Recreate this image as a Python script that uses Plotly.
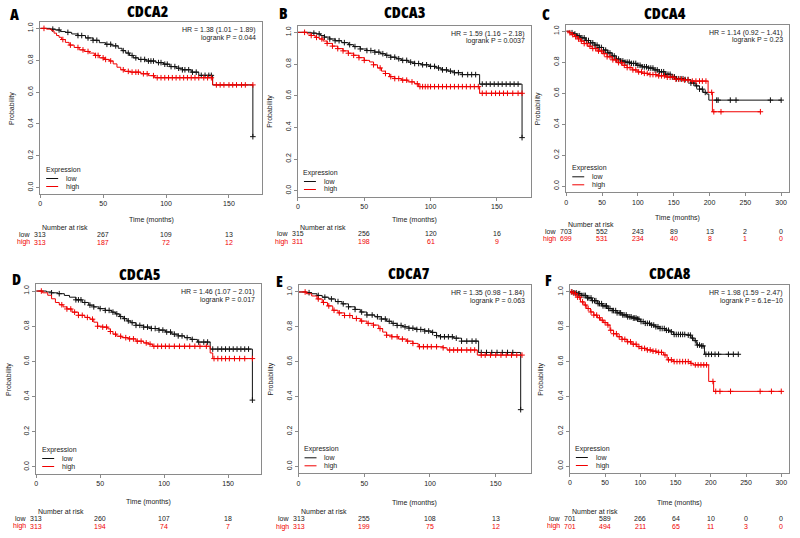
import plotly.graph_objects as go

# ---------------- DATA ----------------
genes = ["CDCA2", "CDCA3", "CDCA4", "CDCA5", "CDCA7", "CDCA8"]
letters = ["A", "B", "C", "D", "E", "F"]
hr_lines = ["HR = 1.38 (1.01 − 1.89)", "HR = 1.59 (1.16 − 2.18)", "HR = 1.14 (0.92 − 1.41)",
            "HR = 1.46 (1.07 − 2.01)", "HR = 1.35 (0.98 − 1.84)", "HR = 1.98 (1.59 − 2.47)"]
p_lines = ["logrank P = 0.044", "logrank P = 0.0037", "logrank P = 0.23",
           "logrank P = 0.017", "logrank P = 0.063", "logrank P = 6.1e−10"]

ticks_short = [0, 50, 100, 150]
ticks_long = [0, 50, 100, 150, 200, 250, 300]
y_ticks = [0.0, 0.2, 0.4, 0.6, 0.8, 1.0]
y_ticklabels = ["0.0", "0.2", "0.4", "0.6", "0.8", "1.0"]

nar_low = [[313, 267, 109, 13], [315, 256, 120, 16], [703, 552, 243, 89, 13, 2, 0],
           [313, 260, 107, 18], [313, 255, 108, 13], [701, 589, 266, 64, 10, 0, 0]]
nar_high = [[313, 187, 72, 12], [311, 198, 61, 9], [699, 531, 234, 40, 8, 1, 0],
            [313, 194, 74, 7], [313, 199, 75, 12], [701, 494, 211, 65, 11, 3, 0]]

# survival step curves (time in months, probability)
A_low_t = [0, 8, 12, 16, 20, 25, 30, 36, 42, 47, 52, 57, 62, 65, 68, 71, 74, 78, 84, 92, 98, 103, 108, 113, 120, 126, 137, 169]
A_low_s = [1.0, 0.995, 0.99, 0.98, 0.975, 0.965, 0.955, 0.94, 0.925, 0.91, 0.9, 0.89, 0.875, 0.86, 0.845, 0.83, 0.815, 0.805, 0.795, 0.785, 0.775, 0.76, 0.75, 0.74, 0.725, 0.705, 0.645, 0.32]
A_low_c = [10, 15, 22, 30, 33, 38, 42, 45, 53, 56, 60, 66, 70, 73, 76, 80, 83, 86, 88, 90, 94, 96, 99, 101, 104, 107, 110, 113, 115, 118, 121, 124, 128, 131, 134, 136, 169]
A_high_t = [0, 5, 9, 11, 13, 15, 17, 20, 23, 27, 31, 35, 39, 43, 47, 51, 55, 58, 61, 64, 67, 72, 80, 86, 91, 137, 169]
A_high_s = [1.0, 0.995, 0.985, 0.97, 0.955, 0.944, 0.93, 0.912, 0.895, 0.88, 0.865, 0.855, 0.845, 0.83, 0.815, 0.805, 0.795, 0.777, 0.756, 0.74, 0.73, 0.725, 0.715, 0.703, 0.69, 0.645, 0.645]
A_high_c = [3, 18, 24, 30, 34, 38, 44, 46, 50, 52, 56, 66, 70, 73, 76, 78, 82, 85, 90, 93, 96, 99, 102, 105, 108, 111, 114, 117, 120, 123, 126, 130, 133, 136, 140, 143, 146, 150, 153, 156, 160, 163, 169]

B_low_t = [0, 10, 14, 17, 20, 24, 28, 33, 38, 42, 47, 52, 58, 62, 66, 70, 74, 78, 83, 88, 93, 99, 104, 108, 113, 118, 124, 137, 169]
B_low_s = [1.0, 0.995, 0.99, 0.98, 0.97, 0.958, 0.947, 0.935, 0.922, 0.91, 0.895, 0.885, 0.875, 0.865, 0.855, 0.843, 0.833, 0.823, 0.812, 0.803, 0.795, 0.785, 0.775, 0.763, 0.755, 0.745, 0.733, 0.673, 0.335]
B_low_c = [12, 16, 20, 24, 28, 31, 35, 39, 43, 47, 52, 55, 58, 61, 64, 67, 70, 73, 76, 79, 82, 85, 88, 91, 94, 97, 100, 103, 106, 109, 112, 115, 118, 121, 124, 128, 131, 134, 139, 142, 145, 148, 151, 154, 157, 160, 163, 166, 169]
B_high_t = [0, 7, 10, 13, 16, 19, 22, 26, 30, 34, 38, 42, 46, 50, 54, 57, 60, 63, 66, 69, 73, 78, 83, 88, 91, 137, 169]
B_high_s = [1.0, 0.99, 0.98, 0.968, 0.958, 0.945, 0.93, 0.913, 0.897, 0.883, 0.868, 0.855, 0.84, 0.823, 0.813, 0.795, 0.775, 0.755, 0.74, 0.72, 0.708, 0.698, 0.687, 0.675, 0.657, 0.615, 0.615]
B_high_c = [5, 10, 14, 18, 22, 26, 30, 34, 38, 42, 46, 50, 57, 62, 66, 70, 73, 76, 79, 82, 86, 90, 92, 94, 96, 98, 100, 103, 106, 109, 112, 115, 118, 121, 124, 127, 130, 133, 136, 139, 142, 146, 149, 152, 155, 158, 162, 166, 169]

C_low_t = [0, 5, 10, 15, 20, 27, 34, 40, 46, 52, 58, 64, 70, 76, 82, 90, 98, 106, 114, 122, 130, 138, 146, 154, 166, 174, 180, 186, 191, 196, 199, 300]
C_low_s = [1.0, 0.99, 0.982, 0.97, 0.957, 0.94, 0.925, 0.91, 0.895, 0.878, 0.86, 0.84, 0.82, 0.808, 0.8, 0.792, 0.78, 0.77, 0.762, 0.75, 0.738, 0.722, 0.705, 0.693, 0.688, 0.665, 0.647, 0.626, 0.605, 0.594, 0.555, 0.555]
C_low_c = [8, 12, 15, 18, 22, 25, 28, 31, 34, 37, 40, 43, 46, 49, 52, 55, 58, 61, 64, 67, 70, 73, 76, 79, 82, 85, 88, 91, 94, 97, 100, 103, 106, 109, 112, 115, 118, 121, 124, 127, 130, 133, 136, 139, 142, 145, 148, 151, 154, 157, 160, 163, 166, 170, 174, 178, 182, 186, 190, 194, 210, 212, 229, 237, 285, 300]
C_high_t = [0, 4, 8, 12, 16, 20, 25, 30, 36, 43, 50, 57, 64, 71, 78, 85, 92, 99, 106, 114, 126, 140, 152, 162, 173, 198, 204, 271]
C_high_s = [1.0, 0.99, 0.978, 0.965, 0.95, 0.936, 0.92, 0.903, 0.888, 0.872, 0.855, 0.835, 0.815, 0.797, 0.78, 0.765, 0.75, 0.737, 0.728, 0.72, 0.712, 0.703, 0.69, 0.685, 0.678, 0.605, 0.48, 0.48]
C_high_c = [5, 9, 13, 17, 21, 25, 29, 33, 37, 41, 45, 49, 53, 57, 61, 65, 69, 73, 77, 81, 85, 89, 93, 97, 101, 105, 109, 113, 117, 121, 125, 129, 133, 137, 141, 145, 149, 153, 157, 161, 165, 170, 176, 181, 186, 190, 195, 203, 206, 216, 271]

D_low_t = [0, 8, 12, 17, 22, 26, 31, 36, 41, 45, 49, 54, 59, 62, 65, 68, 71, 74, 78, 84, 90, 96, 101, 106, 111, 116, 121, 126, 136, 169]
D_low_s = [1.0, 0.995, 0.99, 0.985, 0.975, 0.965, 0.95, 0.935, 0.92, 0.91, 0.9, 0.89, 0.88, 0.87, 0.855, 0.843, 0.83, 0.82, 0.805, 0.795, 0.787, 0.778, 0.767, 0.755, 0.745, 0.735, 0.725, 0.71, 0.67, 0.38]
D_low_c = [12, 18, 31, 33, 35, 38, 42, 45, 50, 54, 57, 60, 63, 66, 69, 72, 75, 78, 81, 84, 87, 90, 93, 96, 99, 102, 105, 108, 111, 114, 118, 122, 127, 131, 134, 138, 142, 145, 148, 151, 154, 157, 160, 163, 166, 169]
D_high_t = [0, 5, 9, 12, 15, 18, 21, 24, 28, 33, 38, 42, 45, 48, 52, 56, 58, 60, 63, 67, 72, 78, 84, 88, 91, 136, 138, 169]
D_high_s = [1.0, 0.99, 0.976, 0.956, 0.935, 0.922, 0.91, 0.898, 0.88, 0.862, 0.85, 0.84, 0.823, 0.8, 0.795, 0.785, 0.77, 0.755, 0.743, 0.735, 0.728, 0.715, 0.705, 0.698, 0.686, 0.648, 0.616, 0.616]
D_high_c = [4, 20, 24, 27, 30, 33, 36, 40, 44, 48, 52, 55, 58, 62, 66, 70, 73, 76, 79, 82, 86, 89, 92, 95, 98, 101, 104, 108, 112, 116, 120, 124, 128, 133, 139, 142, 145, 148, 151, 155, 159, 163, 169]

E_low_t = [0, 6, 10, 14, 18, 23, 28, 33, 38, 43, 47, 52, 58, 63, 67, 71, 75, 79, 84, 90, 96, 101, 105, 108, 118, 124, 137, 169]
E_low_s = [1.0, 0.996, 0.99, 0.98, 0.97, 0.96, 0.945, 0.932, 0.915, 0.9, 0.885, 0.868, 0.858, 0.845, 0.832, 0.82, 0.808, 0.8, 0.792, 0.785, 0.776, 0.768, 0.75, 0.743, 0.735, 0.718, 0.653, 0.325]
E_low_c = [8, 15, 20, 25, 30, 34, 38, 43, 48, 52, 56, 60, 63, 66, 69, 72, 75, 78, 81, 84, 87, 90, 93, 96, 99, 102, 105, 108, 111, 114, 117, 120, 124, 128, 132, 135, 139, 143, 147, 151, 155, 159, 163, 169]
E_high_t = [0, 6, 10, 14, 18, 22, 26, 30, 35, 41, 47, 52, 57, 61, 64, 67, 71, 76, 82, 87, 91, 110, 113, 136, 170]
E_high_s = [1.0, 0.99, 0.977, 0.96, 0.94, 0.92, 0.895, 0.88, 0.865, 0.848, 0.833, 0.82, 0.81, 0.79, 0.77, 0.752, 0.743, 0.73, 0.718, 0.705, 0.686, 0.68, 0.667, 0.638, 0.638]
E_high_c = [5, 15, 19, 23, 27, 31, 35, 39, 44, 48, 53, 57, 62, 67, 71, 75, 79, 83, 87, 92, 95, 98, 101, 105, 110, 115, 118, 121, 124, 128, 131, 134, 139, 142, 146, 150, 154, 158, 162, 166, 170]

F_low_t = [0, 5, 10, 17, 24, 31, 39, 46, 53, 60, 67, 74, 81, 88, 95, 100, 107, 114, 121, 128, 135, 142, 147, 166, 172, 176, 180, 185, 191, 239]
F_low_s = [1.0, 0.995, 0.99, 0.98, 0.966, 0.95, 0.933, 0.92, 0.905, 0.893, 0.88, 0.868, 0.857, 0.85, 0.844, 0.83, 0.82, 0.81, 0.8, 0.79, 0.78, 0.771, 0.756, 0.752, 0.735, 0.72, 0.695, 0.69, 0.642, 0.642]
F_low_c = [3, 6, 9, 12, 14, 17, 20, 22, 25, 27, 30, 32, 35, 37, 40, 42, 45, 47, 50, 52, 55, 57, 60, 62, 65, 67, 70, 72, 75, 77, 80, 82, 85, 87, 90, 92, 94, 96, 98, 101, 104, 107, 110, 113, 116, 119, 122, 125, 128, 131, 134, 137, 140, 144, 148, 151, 154, 157, 160, 163, 168, 171, 174, 178, 181, 184, 187, 189, 193, 197, 201, 206, 211, 225, 232, 239]
F_high_t = [0, 3, 6, 10, 15, 20, 24, 29, 34, 39, 43, 48, 53, 57, 62, 67, 74, 81, 88, 95, 102, 109, 116, 123, 133, 138, 147, 171, 175, 197, 204, 300]
F_high_s = [1.0, 0.995, 0.99, 0.97, 0.943, 0.925, 0.905, 0.885, 0.867, 0.852, 0.838, 0.824, 0.81, 0.78, 0.76, 0.743, 0.728, 0.714, 0.7, 0.686, 0.676, 0.667, 0.66, 0.653, 0.638, 0.61, 0.6, 0.59, 0.581, 0.486, 0.429, 0.429]
F_high_c = [2, 5, 8, 11, 14, 18, 22, 26, 30, 34, 38, 42, 46, 50, 54, 58, 62, 66, 70, 74, 78, 82, 86, 90, 94, 98, 102, 106, 110, 114, 118, 122, 126, 130, 135, 140, 144, 148, 152, 156, 160, 164, 168, 172, 178, 182, 186, 190, 194, 203, 207, 213, 228, 270, 286, 300]

curves = [
    (A_low_t, A_low_s, A_low_c, A_high_t, A_high_s, A_high_c),
    (B_low_t, B_low_s, B_low_c, B_high_t, B_high_s, B_high_c),
    (C_low_t, C_low_s, C_low_c, C_high_t, C_high_s, C_high_c),
    (D_low_t, D_low_s, D_low_c, D_high_t, D_high_s, D_high_c),
    (E_low_t, E_low_s, E_low_c, E_high_t, E_high_s, E_high_c),
    (F_low_t, F_low_s, F_low_c, F_high_t, F_high_s, F_high_c),
]
x_max = [176.3, 175.5, 311, 176, 176.6, 311]

# ---------------- LAYOUT (pixels) ----------------
W, H = 800, 538
boxes = [  # left, right, top, bottom
    (38.3, 260.7, 22, 194),
    (296.7, 530, 26, 197),
    (565.7, 789, 25, 192.3),
    (34.3, 260, 284, 474),
    (297.3, 530, 285, 473.3),
    (569.3, 789, 285, 473),
]
title_pos = [(146, 11.5), (404, 12), (665, 13), (138, 274), (408, 273), (670, 273)]
letter_pos = [(13, 14), (282, 12.5), (545, 14), (15, 279), (278, 281), (548, 280)]
time_y = [220, 220, 217.7, 502.3, 503.3, 503]
prob_x = [10, 268, 537, 7, 270, 540]
nar_y = [(227.7, 234.3, 242.3), (227.7, 233.3, 241.7), (225, 231.3, 238.7),
         (511, 518.7, 526.3), (511, 518.7, 526.7), (511, 518.3, 526)]

RED = "#f00000"
BLK = "#111111"
TXT = "#222222"
BOXC = "#8a8a8a"
SANS = "Liberation Sans, Arial, sans-serif"
COND = "Open Sans, Liberation Sans, sans-serif"
COND_SPAN = "<span style=\"font-family:'Open Sans';font-stretch:75%%;font-weight:800\">%s</span>"


def px(x):
    return x / W


def py(y):
    return 1 - y / H


def surv_at(ts, ss, t):
    v = ss[0]
    for ti, si in zip(ts, ss):
        if ti <= t:
            v = si
    return v


fig = go.Figure()
annotations = []
shapes = []
layout_axes = {}

for i in range(6):
    sfx = "" if i == 0 else str(i + 1)
    xa, ya = "x" + sfx, "y" + sfx
    lt, ls, lc, ht, hs, hc = curves[i]
    for (t, s, c, col) in [(lt, ls, lc, BLK), (ht, hs, hc, RED)]:
        fig.add_trace(go.Scatter(x=t, y=s, mode="lines", line=dict(color=col, width=1, shape="hv"),
                                 xaxis=xa, yaxis=ya, showlegend=False, hoverinfo="skip"))
        fig.add_trace(go.Scatter(x=c, y=[surv_at(t, s, v) for v in c], mode="markers",
                                 marker=dict(symbol="cross-thin", size=4, line=dict(width=1, color=col), color=col),
                                 xaxis=xa, yaxis=ya, showlegend=False, hoverinfo="skip"))
    l, r, tp, bt = boxes[i]
    xt = ticks_short if len(nar_low[i]) == 4 else ticks_long
    layout_axes["xaxis" + sfx] = dict(
        domain=[px(l), px(r)], range=[0, x_max[i]], anchor=ya, tickvals=xt,
        ticktext=[str(v) for v in xt], showline=True, mirror=True, linecolor=BOXC, linewidth=1,
        ticks="outside", ticklen=3, tickcolor=BOXC, tickfont=dict(size=7, color=TXT, family=SANS),
        showgrid=False, zeroline=False, fixedrange=True)
    layout_axes["yaxis" + sfx] = dict(
        domain=[py(bt), py(tp)], range=[-0.04, 1.04], anchor=xa, tickvals=y_ticks,
        ticktext=y_ticklabels, tickangle=-90, showline=True, mirror=True, linecolor=BOXC, linewidth=1,
        ticks="outside", ticklen=3, tickcolor=BOXC, tickfont=dict(size=7, color=TXT, family=SANS),
        showgrid=False, zeroline=False, fixedrange=True)

    # titles and letters
    annotations.append(dict(x=px(title_pos[i][0]), y=py(title_pos[i][1]), xref="paper", yref="paper",
                            text=COND_SPAN % genes[i], showarrow=False, xanchor="center", yanchor="middle",
                            font=dict(size=15.5, family=COND, color="#000", weight="bold")))
    annotations.append(dict(x=px(letter_pos[i][0]), y=py(letter_pos[i][1]), xref="paper", yref="paper",
                            text=COND_SPAN % letters[i], showarrow=False, xanchor="center", yanchor="middle",
                            font=dict(size=15.5, family=COND, color="#000", weight="bold")))
    # HR text
    annotations.append(dict(x=px(r - 4), y=py(tp + 8), xref="paper", yref="paper", text=hr_lines[i],
                            showarrow=False, xanchor="right", yanchor="middle", font=dict(size=7, family=SANS, color=TXT)))
    annotations.append(dict(x=px(r - 4), y=py(tp + 15.5), xref="paper", yref="paper", text=p_lines[i],
                            showarrow=False, xanchor="right", yanchor="middle", font=dict(size=7, family=SANS, color=TXT)))
    # axis titles
    annotations.append(dict(x=px((l + r) / 2), y=py(time_y[i]), xref="paper", yref="paper", text="Time (months)",
                            showarrow=False, xanchor="center", yanchor="middle", font=dict(size=7, family=SANS, color=TXT)))
    annotations.append(dict(x=px(prob_x[i]), y=py((tp + bt) / 2), xref="paper", yref="paper", text="Probability",
                            textangle=-90, showarrow=False, xanchor="center", yanchor="middle",
                            font=dict(size=7, family=SANS, color=TXT)))
    # legend
    annotations.append(dict(x=px(l + 3.5), y=py(bt - 24), xref="paper", yref="paper", text="Expression",
                            showarrow=False, xanchor="left", yanchor="middle", font=dict(size=7, family=SANS, color=TXT)))
    for k, (lab, col) in enumerate([("low", BLK), ("high", RED)]):
        yy = bt - 15.5 + 8 * k
        shapes.append(dict(type="line", xref="paper", yref="paper", x0=px(l + 6), x1=px(l + 18),
                           y0=py(yy), y1=py(yy), line=dict(color=col, width=1)))
        annotations.append(dict(x=px(l + 24), y=py(yy), xref="paper", yref="paper", text=lab, showarrow=False,
                                xanchor="left", yanchor="middle", font=dict(size=7, family=SANS, color=TXT)))
    # number at risk
    ny0, ny1, ny2 = nar_y[i]
    annotations.append(dict(x=px(l), y=py(ny0), xref="paper", yref="paper", text="Number at risk",
                            showarrow=False, xanchor="left", yanchor="middle", font=dict(size=7, family=SANS, color=TXT)))
    annotations.append(dict(x=px(l - 8), y=py(ny1), xref="paper", yref="paper", text="low",
                            showarrow=False, xanchor="right", yanchor="middle", font=dict(size=7, family=SANS, color=TXT)))
    annotations.append(dict(x=px(l - 8), y=py(ny2), xref="paper", yref="paper", text="high",
                            showarrow=False, xanchor="right", yanchor="middle", font=dict(size=7, family=SANS, color=RED)))
    for tv, nl, nh in zip(xt, nar_low[i], nar_high[i]):
        annotations.append(dict(x=tv, y=py(ny1), xref=xa, yref="paper", text=str(nl), showarrow=False,
                                xanchor="center", yanchor="middle", font=dict(size=7, family=SANS, color=TXT)))
        annotations.append(dict(x=tv, y=py(ny2), xref=xa, yref="paper", text=str(nh), showarrow=False,
                                xanchor="center", yanchor="middle", font=dict(size=7, family=SANS, color=RED)))

fig.update_layout(width=W, height=H, margin=dict(l=0, r=0, t=0, b=0), autosize=False,
                  paper_bgcolor="white", plot_bgcolor="white", showlegend=False,
                  annotations=annotations, shapes=shapes, **layout_axes)
fig.write_html("out.html", config={"displayModeBar": False},
               post_script="document.body.style.margin='0px';document.body.style.overflow='hidden';")
